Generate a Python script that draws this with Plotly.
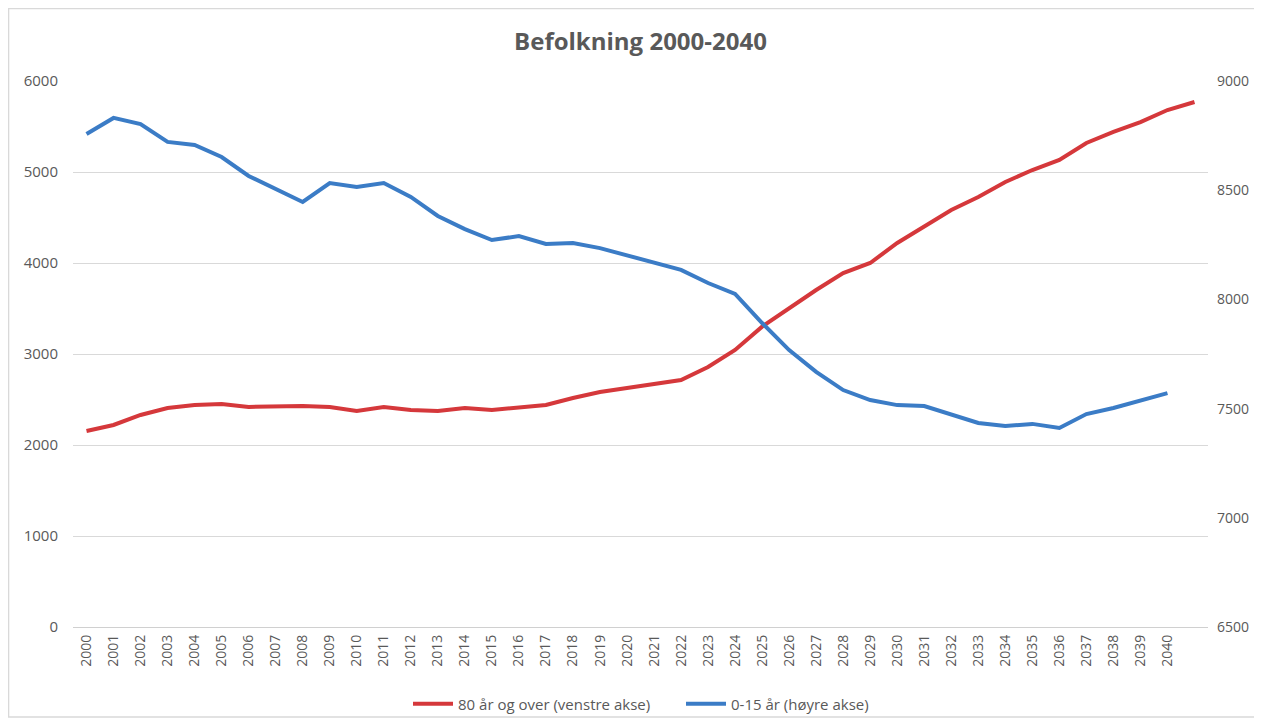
import plotly.graph_objects as go

years_red = list(range(2000, 2042))
years_blue = list(range(2000, 2041))
tick_years = list(range(2000, 2041))

age80_over = [2154, 2220, 2330, 2407, 2440, 2450, 2418, 2429, 2429, 2418,
              2374, 2418, 2385, 2374, 2407, 2385, 2407, 2440, 2516, 2582,
              2626, 2670, 2714, 2857, 3044, 3300, 3505, 3703, 3890, 4000,
              4220, 4396, 4582, 4725, 4890, 5022, 5132, 5319, 5440, 5549,
              5681, 5769]

age0_15 = [8757, 8831, 8803, 8721, 8707, 8652, 8565, 8505, 8446, 8533,
           8515, 8533, 8469, 8382, 8322, 8272, 8290, 8254, 8258, 8235,
           8203, 8171, 8135, 8075, 8025, 7892, 7768, 7668, 7585, 7539,
           7516, 7512, 7471, 7434, 7420, 7430, 7411, 7475, 7503, 7535,
           7571]

FONT = "Open Sans"
RED = "#d5383b"
BLUE = "#3b7cc6"
GREY = "#595959"

fig = go.Figure()
fig.add_trace(go.Scatter(x=years_red, y=age80_over, mode="lines",
                         name="80 år og over (venstre akse)",
                         line=dict(color=RED, width=4)))
fig.add_trace(go.Scatter(x=years_blue, y=age0_15, mode="lines",
                         name="0-15 år (høyre akse)", yaxis="y2",
                         line=dict(color=BLUE, width=4)))

fig.update_layout(
    width=1246, height=710,
    margin=dict(l=65, r=46, t=73, b=91, autoexpand=False),
    paper_bgcolor="white", plot_bgcolor="white",
    font=dict(family=FONT, color=GREY, size=14),
    title=dict(text="<b>Befolkning 2000-2040</b>", x=0.5, xanchor="center", xref="paper",
               y=1 - 34 / 710, yanchor="middle",
               font=dict(family=FONT, size=24, color="#595959")),
    xaxis=dict(range=[1999.5, 2041.5], tickmode="array", tickvals=tick_years,
               ticktext=[str(y) for y in tick_years], tickangle=-90,
               showgrid=False, zeroline=False, showline=False,
               tickfont=dict(size=14, color=GREY), ticks="", ticklabelstandoff=4),
    yaxis=dict(range=[0, 6000], dtick=1000, showgrid=True, gridcolor="#d9d9d9",
               gridwidth=1, zeroline=True, zerolinecolor="#d0d0d0", zerolinewidth=1,
               showline=False, ticks="", tickfont=dict(size=15, color=GREY),
               ticklabelstandoff=14),
    yaxis2=dict(range=[6500, 9000], dtick=500, overlaying="y", side="right",
                showgrid=False, zeroline=False, showline=False, ticks="",
                tickfont=dict(size=14, color=GREY), ticklabelstandoff=8),
    legend=dict(orientation="h", x=(400 - 65) / 1135, xanchor="left",
                y=-0.141, yanchor="middle", bgcolor="rgba(0,0,0,0)",
                font=dict(size=15, color=GREY), itemwidth=40,
                entrywidth=218, entrywidthmode="pixels",
                traceorder="normal"),
    shapes=[dict(type="rect", xref="paper", yref="paper",
                 x0=-0.0568, x1=1.06, y0=-(709 - 619) / 546, y1=1.1328,
                 line=dict(color="#d9d9d9", width=1.5), layer="below")],
    showlegend=True,
)

fig.write_html("out.html")
